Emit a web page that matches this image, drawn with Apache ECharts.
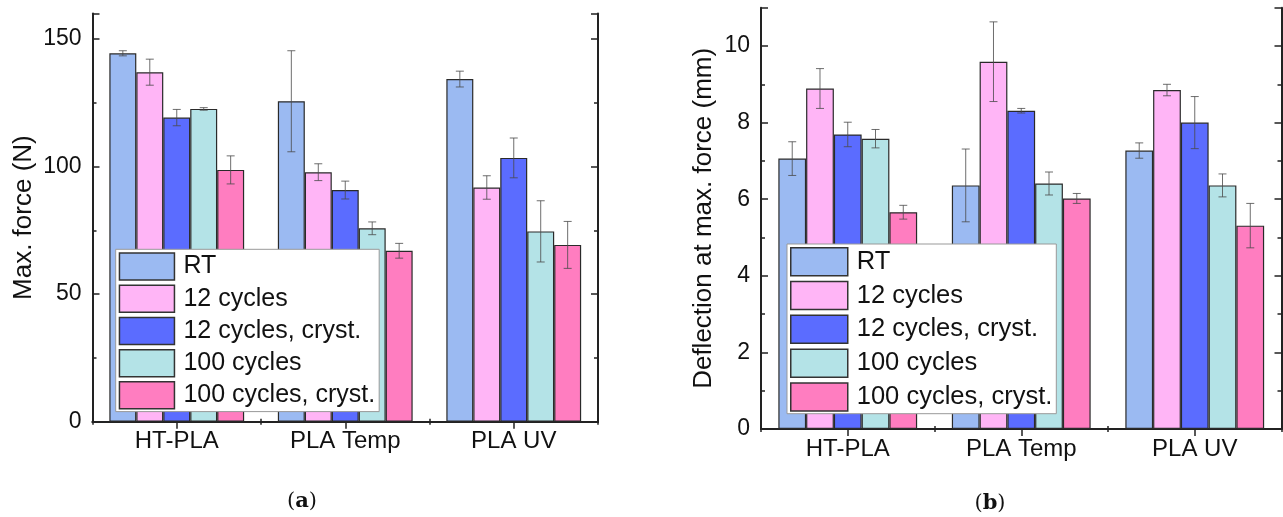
<!DOCTYPE html>
<html>
<head>
<meta charset="utf-8">
<script src="https://cdn.jsdelivr.net/npm/echarts@6/dist/echarts.min.js"></script>
<style>
html,body{margin:0;padding:0;background:#fff;}
#chart{width:1283px;height:517px;}
</style>
</head>
<body>
<div id="chart"></div>
<script>
// ---- data ----
const categories = ['HT-PLA', 'PLA Temp', 'PLA UV'];
const seriesNames = ['RT', '12 cycles', '12 cycles, cryst.', '100 cycles', '100 cycles, cryst.'];

// Max. force (N)
const forceRT = [144.4, 125.6, 134.3];
const force12 = [137.0, 97.8, 91.8];
const force12c = [119.2, 90.8, 103.4];
const force100 = [122.6, 75.8, 74.6];
const force100c = [98.7, 67.0, 69.3];
const forceRTErr = [1.0, 19.8, 3.1];
const force12Err = [5.1, 3.3, 4.6];
const force12cErr = [3.2, 3.5, 7.8];
const force100Err = [0.5, 2.5, 12.0];
const force100cErr = [5.5, 2.9, 9.2];

// Deflection at max. force (mm)
const defRT = [7.06, 6.36, 7.27];
const def12 = [8.89, 9.59, 8.85];
const def12c = [7.69, 8.31, 8.00];
const def100 = [7.58, 6.41, 6.36];
const def100c = [5.66, 6.02, 5.31];
const defRTErr = [0.44, 0.95, 0.20];
const def12Err = [0.52, 1.04, 0.15];
const def12cErr = [0.32, 0.06, 0.68];
const def100Err = [0.24, 0.30, 0.30];
const def100cErr = [0.18, 0.13, 0.58];

const forceTicks = [0, 50, 100, 150];
const defTicks = [0, 2, 4, 6, 8, 10];

// ---- style ----
const colors = ['#9bbaf2', '#ffb5f6', '#5b6cff', '#b4e3e7', '#ff7dc0'];
const FONT = '"Liberation Sans", Arial, sans-serif';
const FRAME = '#222';

const forceVals = [forceRT, force12, force12c, force100, force100c];
const forceErrs = [forceRTErr, force12Err, force12cErr, force100Err, force100cErr];
const defVals = [defRT, def12, def12c, def100, def100c];
const defErrs = [defRTErr, def12Err, def12cErr, def100Err, def100cErr];

function errRender(i, n) {
  return function (params, api) {
    const c = api.value(0);
    const lo = api.coord([c, api.value(1)]);
    const hi = api.coord([c, api.value(2)]);
    const band = api.size([1, 0])[0];
    const bw = band * 0.8 / n;
    const x = lo[0] + (i - (n - 1) / 2) * bw;
    const cap = 4;
    const st = { stroke: '#4a4a4a', lineWidth: 1, opacity: 0.8 };
    return {
      type: 'group',
      children: [
        { type: 'line', shape: { x1: x, y1: hi[1], x2: x, y2: lo[1] }, style: st },
        { type: 'line', shape: { x1: x - cap, y1: hi[1], x2: x + cap, y2: hi[1] }, style: st },
        { type: 'line', shape: { x1: x - cap, y1: lo[1], x2: x + cap, y2: lo[1] }, style: st }
      ]
    };
  };
}

function xAxes(g) {
  const base = { type: 'category', data: categories, gridIndex: g, axisLabel: { show: false }, splitLine: { show: false } };
  return [
    Object.assign({}, base, {
      position: 'bottom',
      axisLine: { show: true, lineStyle: { color: FRAME, width: 2 } },
      axisTick: { show: true, inside: true, alignWithLabel: true, length: 7, lineStyle: { color: FRAME, width: 1.5 } },
      axisLabel: { show: true, fontFamily: FONT, fontSize: 24, color: '#111', margin: 8 }
    }),
    Object.assign({}, base, {
      position: 'bottom',
      axisLine: { show: false },
      axisTick: { show: true, inside: true, length: 3, lineStyle: { color: FRAME, width: 1.5 } }
    }),
    Object.assign({}, base, {
      position: 'top',
      axisLine: { show: true, lineStyle: { color: FRAME, width: 2 } },
      axisTick: { show: true, inside: true, alignWithLabel: true, length: 7, lineStyle: { color: FRAME, width: 1.5 } }
    }),
    Object.assign({}, base, {
      position: 'top',
      axisLine: { show: false },
      axisTick: { show: true, inside: true, length: 3, lineStyle: { color: FRAME, width: 1.5 } }
    })
  ];
}

function yAxes(g, max, interval, ticks, name, nameGap) {
  const base = { type: 'value', gridIndex: g, min: 0, max: max, splitLine: { show: false }, axisLabel: { show: false } };
  return [
    Object.assign({}, base, {
      position: 'left', interval: interval,
      name: name, nameLocation: 'middle', nameGap: nameGap, nameRotate: 90,
      nameTextStyle: { fontFamily: FONT, fontSize: 26, color: '#111' },
      axisLine: { show: true, lineStyle: { color: FRAME, width: 2 } },
      axisTick: { show: true, inside: true, length: 7, lineStyle: { color: FRAME, width: 1.5 } },
      axisLabel: {
        show: true, fontFamily: FONT, fontSize: 23, color: '#111', margin: 11,
        formatter: v => (ticks.indexOf(v) >= 0 ? String(v) : '')
      }
    }),
    Object.assign({}, base, {
      position: 'left', interval: interval / 2,
      axisLine: { show: false },
      axisTick: { show: true, inside: true, length: 4, lineStyle: { color: FRAME, width: 1.5 } }
    }),
    Object.assign({}, base, {
      position: 'right', interval: interval,
      axisLine: { show: true, lineStyle: { color: FRAME, width: 2 } },
      axisTick: { show: true, inside: true, length: 7, lineStyle: { color: FRAME, width: 1.5 } }
    }),
    Object.assign({}, base, {
      position: 'right', interval: interval / 2,
      axisLine: { show: false },
      axisTick: { show: true, inside: true, length: 4, lineStyle: { color: FRAME, width: 1.5 } }
    })
  ];
}

const series = [];
function addSeries(g, vals, errs, xIdx, yIdx, tag) {
  const n = vals.length;
  vals.forEach((v, i) => {
    series.push({
      type: 'bar', name: seriesNames[i], xAxisIndex: xIdx, yAxisIndex: yIdx,
      data: v, barGap: '0%', barCategoryGap: '20%',
      itemStyle: { color: colors[i], borderColor: '#2a2a2a', borderWidth: 1.2 },
      emphasis: { disabled: true }, z: 2
    });
  });
  vals.forEach((v, i) => {
    series.push({
      type: 'custom', name: tag + i, xAxisIndex: xIdx, yAxisIndex: yIdx, z: 3,
      renderItem: errRender(i, n),
      data: v.map((val, k) => [k, val - errs[i][k], val + errs[i][k]]),
      silent: true
    });
  });
}
addSeries(0, forceVals, forceErrs, 0, 0, 'errA');
addSeries(1, defVals, defErrs, 4, 4, 'errB');

function legend(left, top, w, h, gap, fs) {
  return {
    orient: 'vertical', left: left, top: top,
    itemWidth: w, itemHeight: h, itemGap: gap,
    padding: [3, 4, 2, 3],
    borderColor: '#999', borderWidth: 1, backgroundColor: '#fff',
    icon: 'rect',
    itemStyle: { borderColor: '#333', borderWidth: 1.5 },
    textStyle: { fontFamily: FONT, fontSize: fs, color: '#111', padding: [0, 0, 0, 4] },
    data: seriesNames,
    selectedMode: false
  };
}

const option = {
  animation: false,
  backgroundColor: '#fff',
  grid: [
    { left: 92.5, top: 13.5, right: 685, bottom: 95.3, containLabel: false },
    { left: 761, top: 7.7, right: 1.5, bottom: 88, containLabel: false }
  ],
  xAxis: xAxes(0).concat(xAxes(1)),
  yAxis: yAxes(0, 160, 50, forceTicks, 'Max. force (N)', 56)
    .concat(yAxes(1, 11, 2, defTicks, 'Deflection at max. force (mm)', 44)),
  legend: [
    legend(115.7, 249.3, 55, 27, 3.7, 25),
    legend(787, 244, 57, 28, 4.3, 25.5)
  ],
  series: series,
  graphic: [
    {
      type: 'text', x: 302, y: 502,
      style: {
        text: '{p|(}{b|a}{p|)}', align: 'center', verticalAlign: 'middle',
        rich: {
          p: { fontFamily: '"DejaVu Serif", "Liberation Serif", serif', fontSize: 21, fill: '#111' },
          b: { fontFamily: '"DejaVu Serif", "Liberation Serif", serif', fontSize: 21, fontWeight: 'bold', fill: '#111' }
        }
      }
    },
    {
      type: 'text', x: 990, y: 504,
      style: {
        text: '{p|(}{b|b}{p|)}', align: 'center', verticalAlign: 'middle',
        rich: {
          p: { fontFamily: '"DejaVu Serif", "Liberation Serif", serif', fontSize: 21, fill: '#111' },
          b: { fontFamily: '"DejaVu Serif", "Liberation Serif", serif', fontSize: 21, fontWeight: 'bold', fill: '#111' }
        }
      }
    }
  ]
};

const chart = echarts.init(document.getElementById('chart'), null, { renderer: 'canvas' });
chart.setOption(option);
</script>
</body>
</html>
